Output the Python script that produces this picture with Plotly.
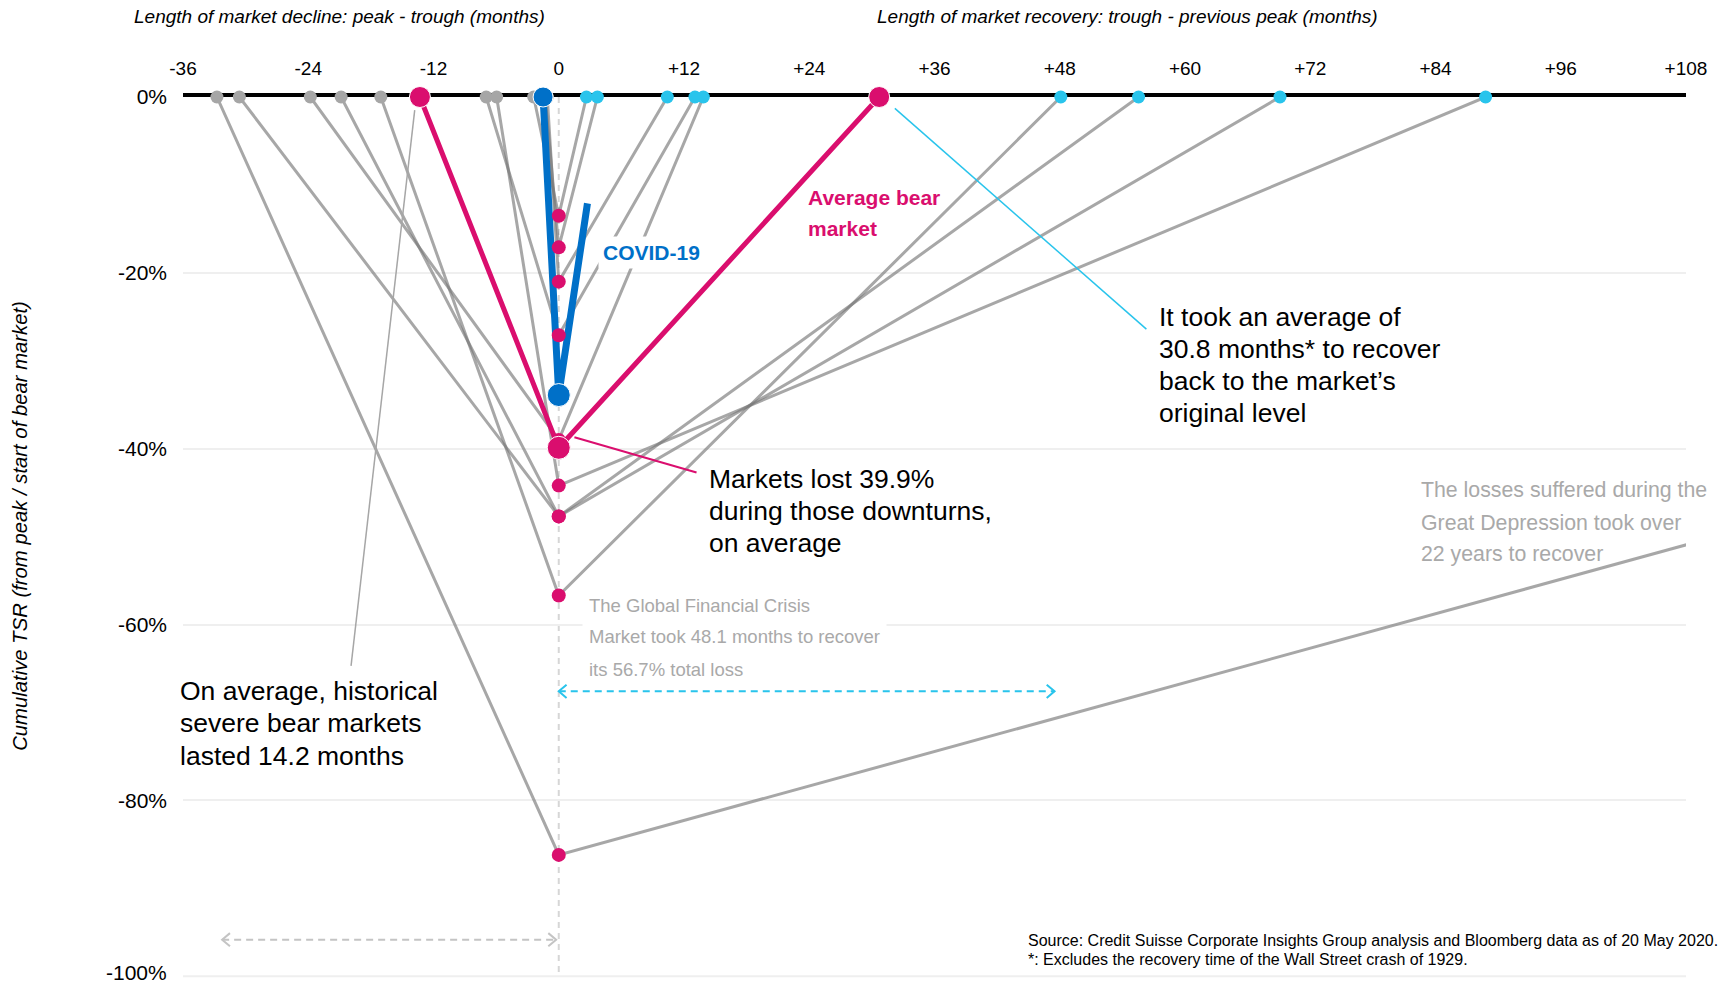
import plotly.graph_objects as go

# ---------------- data ----------------
# months relative to trough (negative = decline start, positive = recovery end)
decline_start = [-32.75, -30.6, -23.8, -20.85, -17.05, -6.95, -5.95, -2.4, -1.3, -1.1]
trough_tsr = [-86.2, -47.7, -39.0, -47.7, -56.7, -27.1, -44.2, -13.5, -17.1, -21.0]
recovery_end = [264.0, 55.55, 13.85, 69.1, 48.1, 13.05, 88.8, 2.65, 3.7, 10.4]

avg_months = [-13.3, 0.0, 30.7]
avg_tsr = [0.0, -39.9, 0.0]

covid_months = [-1.5, 0.0, 2.75]
covid_tsr = [0.0, -33.9, -12.1]

x_ticks = [-36, -24, -12, 0, 12, 24, 36, 48, 60, 72, 84, 96, 108]
x_tick_labels = ["-36", "-24", "-12", "0", "+12", "+24", "+36", "+48", "+60", "+72", "+84", "+96", "+108"]
y_ticks = [0, -20, -40, -60, -80, -100]
y_tick_labels = ["0%", "-20%", "-40%", "-60%", "-80%", "-100%"]

# ---------------- style ----------------
FONT = "Liberation Sans, Arial, sans-serif"
GRAY_LINE = "rgba(120,120,120,0.65)"
GRAY_DOT = "#a6a6a6"
MAGENTA = "#da0e6e"
BLUE = "#0070c8"
CYAN = "#29c4ec"
TXT_GRAY = "#a9a9a9"

X_MIN, X_MAX = x_ticks[0], x_ticks[-1]

fig = go.Figure()

# gray bear-market V shapes (one trace each so crossings darken)
for s, t, r in zip(decline_start, trough_tsr, recovery_end):
    fig.add_trace(go.Scatter(
        x=[s, 0, r], y=[0, t, 0], mode="lines",
        line=dict(color=GRAY_LINE, width=3), hoverinfo="skip", showlegend=False))

# average bear market
fig.add_trace(go.Scatter(x=avg_months, y=avg_tsr, mode="lines",
                         line=dict(color=MAGENTA, width=5), hoverinfo="skip", showlegend=False))
# COVID-19
fig.add_trace(go.Scatter(x=covid_months, y=covid_tsr, mode="lines",
                         line=dict(color=BLUE, width=7), hoverinfo="skip", showlegend=False))

# markers
fig.add_trace(go.Scatter(x=decline_start, y=[0] * len(decline_start), mode="markers",
                         marker=dict(color=GRAY_DOT, size=13, opacity=1), cliponaxis=False,
                         hoverinfo="skip", showlegend=False))
vis_rec = [r for r in recovery_end if r <= X_MAX]
fig.add_trace(go.Scatter(x=vis_rec, y=[0] * len(vis_rec), mode="markers",
                         marker=dict(color=CYAN, size=13, opacity=1), cliponaxis=False,
                         hoverinfo="skip", showlegend=False))
fig.add_trace(go.Scatter(x=covid_months[:2], y=covid_tsr[:2], mode="markers",
                         marker=dict(color=BLUE, size=[20, 23], opacity=1), cliponaxis=False,
                         hoverinfo="skip", showlegend=False))
fig.add_trace(go.Scatter(x=[0] * len(trough_tsr), y=trough_tsr, mode="markers",
                         marker=dict(color=MAGENTA, size=14, opacity=1), cliponaxis=False,
                         hoverinfo="skip", showlegend=False))
fig.add_trace(go.Scatter(x=avg_months, y=avg_tsr, mode="markers",
                         marker=dict(color=MAGENTA, size=[21, 23, 21], opacity=1), cliponaxis=False,
                         hoverinfo="skip", showlegend=False))

shapes = []
# vertical dashed line at trough
shapes.append(dict(type="line", xref="x", yref="y", x0=0, x1=0, y0=0, y1=y_ticks[-1],
                   line=dict(color="#d6d6d6", width=2, dash="6px,5px"), layer="below"))

# pointer lines
shapes.append(dict(type="line", xref="x", yref="y", x0=1.5, y0=-38.7, x1=13.2, y1=-42.7,
                   line=dict(color=MAGENTA, width=2)))
shapes.append(dict(type="line", xref="x", yref="y", x0=32.2, y0=-1.3, x1=56.3, y1=-26.4,
                   line=dict(color=CYAN, width=1.5)))
shapes.append(dict(type="line", xref="x", yref="y", x0=-19.9, y0=-64.7, x1=-13.8, y1=-1.5,
                   line=dict(color=GRAY_DOT, width=1.5)))


def dashed_arrow(x0, x1, y, color):
    out = [dict(type="line", xref="x", yref="y", x0=x0, x1=x1, y0=y, y1=y,
                line=dict(color=color, width=2, dash="7px,5px"))]
    dx, dy = 0.75, 0.75
    out.append(dict(type="path", xref="x", yref="y",
                    path=f"M {x0+dx},{y+dy} L {x0},{y} L {x0+dx},{y-dy}",
                    line=dict(color=color, width=2)))
    out.append(dict(type="path", xref="x", yref="y",
                    path=f"M {x1-dx},{y+dy} L {x1},{y} L {x1-dx},{y-dy}",
                    line=dict(color=color, width=2)))
    return out


gfc_idx = trough_tsr.index(-56.7)
gd_idx = trough_tsr.index(min(trough_tsr))
shapes += dashed_arrow(0.0, recovery_end[gfc_idx] - 0.6, -67.6, CYAN)
shapes += dashed_arrow(decline_start[gd_idx] + 0.5, -0.25, -95.85, "#c4c4c4")

ann = []


def txt(x, y, text, size, color="#000000", xanchor="left", bg=None, pad=1,
        xref="x", yref="y", **kw):
    d = dict(x=x, y=y, text=text, showarrow=False, xanchor=xanchor, yanchor="middle",
             align="left", font=dict(family=FONT, size=size, color=color),
             borderpad=pad, xref=xref, yref=yref)
    if bg:
        d["bgcolor"] = bg
    d.update(kw)
    ann.append(d)


# bottom y tick label (axis would drop it at the figure edge); nudged up to stay inside
txt(-0.0098, y_ticks[-1] + 0.4, y_tick_labels[-1], 21, xref="paper", xanchor="right", pad=0)

# axis titles (paper coords)
txt(-0.034, 1.091, "<i>Length of market decline: peak - trough (months)</i>", 19,
    xref="paper", yref="paper")
txt(0.4607, 1.091, "<i>Length of market recovery: trough - previous peak (months)</i>", 19,
    xref="paper", yref="paper")
txt(-0.1085, 0.517, "<i>Cumulative TSR (from peak / start of bear market)</i>", 20.3,
    xref="paper", yref="paper", xanchor="center", textangle=-90)

txt(3.75, -17.7, "<b>COVID-19</b>", 21, BLUE, bg="white", pad=4)
txt(23.7, -11.4, "<b>Average bear</b>", 21, MAGENTA)
txt(23.7, -14.9, "<b>market</b>", 21, MAGENTA)

BIG = 26.5
for yy, line in zip([-43.5, -47.1, -50.7],
                    ["Markets lost 39.9%", "during those downturns,", "on average"]):
    txt(14.2, yy, line, BIG)
for yy, line in zip([-25.0, -28.7, -32.3, -35.9],
                    ["It took an average of", "30.8 months* to recover",
                     "back to the market\u2019s", "original level"]):
    txt(57.3, yy, line, BIG)
for yy, line in zip([-67.6, -71.2, -74.9],
                    ["On average, historical", "severe bear markets", "lasted 14.2 months"]):
    txt(-0.0035, yy, line, BIG, xref="paper")

for yy, line in zip([-57.8, -61.4, -65.1],
                    ["The Global Financial Crisis", "Market took 48.1 months to recover",
                     "its 56.7% total loss"]):
    txt(2.2, yy, line, 18.5, TXT_GRAY, bg="white", pad=6)

for yy, line in zip([-44.7, -48.4, -52.0],
                    ["The losses suffered during the", "Great Depression took over",
                     "22 years to recover"]):
    txt(82.4, yy, line, 21.3, TXT_GRAY)

for yy, line in zip([-95.97, -98.1],
                    ["Source: Credit Suisse Corporate Insights Group analysis and Bloomberg data as of 20 May 2020.",
                     "*: Excludes the recovery time of the Wall Street crash of 1929."]):
    txt(44.8, yy, line, 16)

fig.update_layout(
    width=1731, height=986,
    margin=dict(l=183, r=45, t=97, b=1),
    paper_bgcolor="white", plot_bgcolor="white",
    showlegend=False, hovermode=False,
    shapes=shapes, annotations=ann,
    font=dict(family=FONT, color="#000000"),
    xaxis=dict(range=[X_MIN, X_MAX], side="top", tickvals=x_ticks, ticktext=x_tick_labels,
               showgrid=False, zeroline=False, showline=True, linecolor="#000000", linewidth=4,
               ticks="", tickfont=dict(family=FONT, size=19, color="#000000"),
               ticklabelstandoff=10, layer="below traces", fixedrange=True),
    yaxis=dict(range=[-101, 0], tickvals=y_ticks[:-1], ticktext=y_tick_labels[:-1],
               showgrid=True, gridcolor="#efefef", gridwidth=2, zeroline=False, showline=False,
               ticks="", tickfont=dict(family=FONT, size=21, color="#000000"),
               ticklabelstandoff=15, fixedrange=True),
)
# gridline for the bottom tick (its label is drawn as an annotation above)
fig.add_hline(y=y_ticks[-1], line=dict(color="#efefef", width=2), layer="below")

fig.write_html("out.html")
